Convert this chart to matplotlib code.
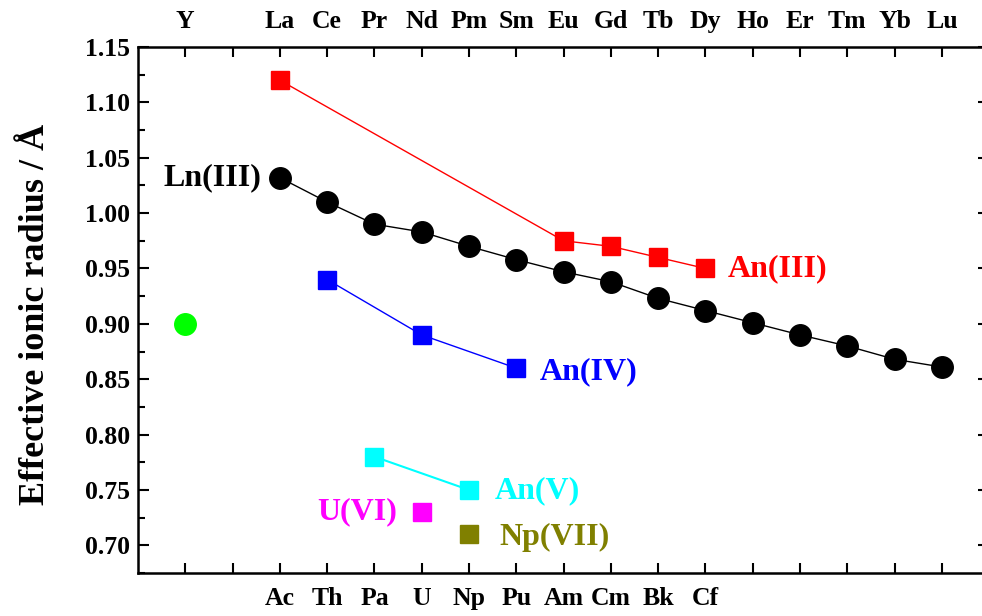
import matplotlib
matplotlib.use("Agg")
import matplotlib.pyplot as plt
from matplotlib.ticker import MultipleLocator

plt.rcParams['font.family'] = ['Liberation Serif', 'DejaVu Serif']
plt.rcParams['font.weight'] = 'bold'

# positions: 0 = Y, 2..16 = La..Lu (Ac..Cf share 2..11)
top_labels = ["Y", "", "La", "Ce", "Pr", "Nd", "Pm", "Sm", "Eu", "Gd", "Tb",
              "Dy", "Ho", "Er", "Tm", "Yb", "Lu"]
bottom_labels = ["", "", "Ac", "Th", "Pa", "U", "Np", "Pu", "Am", "Cm", "Bk",
                 "Cf", "", "", "", "", ""]

ln3_x = [2, 3, 4, 5, 6, 7, 8, 9, 10, 11, 12, 13, 14, 15, 16]
ln3_y = [1.032, 1.010, 0.990, 0.983, 0.970, 0.958, 0.947, 0.938, 0.923,
         0.912, 0.901, 0.890, 0.880, 0.868, 0.861]

an3_x = [2, 8, 9, 10, 11]
an3_y = [1.120, 0.975, 0.970, 0.960, 0.950]

an4_x = [3, 5, 7]
an4_y = [0.940, 0.890, 0.860]

an5_x = [4, 6]
an5_y = [0.780, 0.750]

u6_x = [5]
u6_y = [0.730]

np7_x = [6]
np7_y = [0.710]

y_x = [0]
y_y = [0.900]

yticks = [0.70, 0.75, 0.80, 0.85, 0.90, 0.95, 1.00, 1.05, 1.10, 1.15]

W, H = 982, 616
fig = plt.figure(figsize=(W / 100, H / 100), dpi=100)
ax = fig.add_axes([138 / W, (H - 573) / H, (989.2 - 138) / W, (573 - 47) / H])

ax.plot(ln3_x, ln3_y, color='black', lw=1.0, marker='o', ms=15.5, mec='black', mfc='black', zorder=3)
ax.plot(an3_x, an3_y, color='#FF0000', lw=1.0, marker='s', ms=13.5, mec='#FF0000', mfc='#FF0000', zorder=3)
ax.plot(an4_x, an4_y, color='#0000FF', lw=1.0, marker='s', ms=13.5, mec='#0000FF', mfc='#0000FF', zorder=3)
ax.plot(an5_x, an5_y, color='#00FFFF', lw=1.5, marker='s', ms=13.5, mec='#00FFFF', mfc='#00FFFF', zorder=3)
ax.plot(u6_x, u6_y, ls='none', marker='s', ms=13.5, mec='#FF00FF', mfc='#FF00FF', zorder=3)
ax.plot(np7_x, np7_y, ls='none', marker='s', ms=13.5, mec='#808000', mfc='#808000', zorder=3)
ax.plot(y_x, y_y, ls='none', marker='o', ms=15.5, mec='#00FF00', mfc='#00FF00', zorder=3)

fs = 18.5
afs = 23
ax.text(1.6, 1.032, "Ln(III)", color='black', fontsize=afs, fontweight='bold', ha='right', va='center')
ax.text(11.48, 0.950, "An(III)", color='#FF0000', fontsize=afs, fontweight='bold', ha='left', va='center')
ax.text(7.5, 0.857, "An(IV)", color='#0000FF', fontsize=afs, fontweight='bold', ha='left', va='center')
ax.text(6.55, 0.749, "An(V)", color='#00FFFF', fontsize=afs, fontweight='bold', ha='left', va='center')
ax.text(4.48, 0.730, "U(VI)", color='#FF00FF', fontsize=afs, fontweight='bold', ha='right', va='center')
ax.text(6.65, 0.707, "Np(VII)", color='#808000', fontsize=afs, fontweight='bold', ha='left', va='center')

ax.set_xlim(-1, 17)
ax.set_ylim(0.675, 1.15)

positions = list(range(len(top_labels)))
ax.set_xticks(positions)
ax.set_xticklabels(bottom_labels, fontsize=fs, fontweight='bold')
ax.yaxis.set_minor_locator(MultipleLocator(0.025))
ax.set_yticks(yticks)
ax.set_yticklabels(["%.2f" % v for v in yticks], fontsize=fs, fontweight='bold')

ax.tick_params(axis='x', which='major', direction='in', length=7, width=1.5,
               top=True, bottom=True, pad=10)
ax.tick_params(axis='y', which='major', direction='in', length=8, width=1.5,
               left=True, right=True, pad=6)
ax.tick_params(axis='y', which='minor', direction='in', length=5, width=1.5,
               left=True, right=False)

secx = ax.secondary_xaxis('top')
secx.set_xticks(positions)
secx.set_xticklabels(top_labels, fontsize=fs, fontweight='bold')
secx.tick_params(direction='in', length=0, pad=10)
secx.spines['top'].set_visible(False)

for s in ['left', 'bottom', 'top', 'right']:
    ax.spines[s].set_linewidth(1.8)

fig.text(36 / W, 1 - 314 / H, "Effective ionic radius / Å", rotation=90,
         fontsize=26, fontweight='bold', ha='center', va='center')

fig.savefig("out.png", dpi=100)
